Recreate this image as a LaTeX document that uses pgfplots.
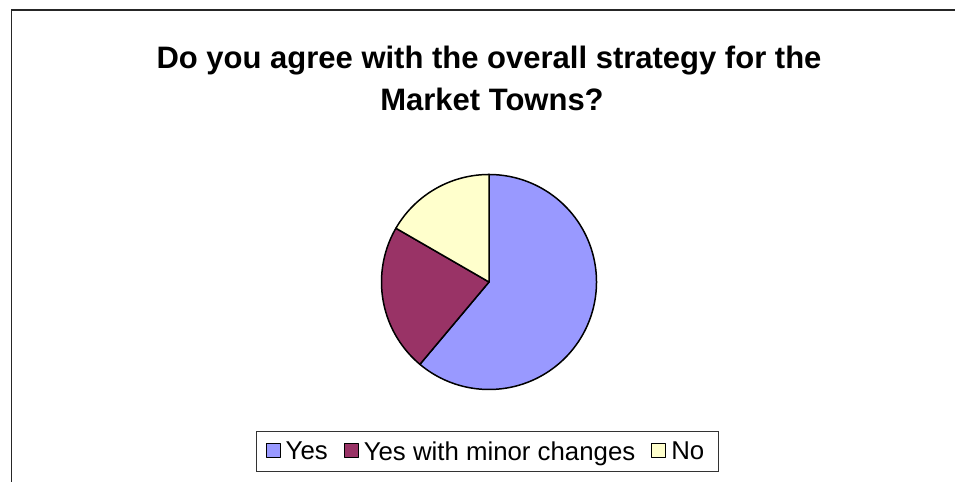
\documentclass[border=0pt]{standalone}
\usepackage{fontspec}
\setmainfont{Liberation Sans}
\usepackage{pgfplots}
\pgfplotsset{compat=1.18}
\definecolor{cyes}{HTML}{9999FF}
\definecolor{cmin}{HTML}{993366}
\definecolor{cno}{HTML}{FFFFCC}
\begin{document}
\begin{tikzpicture}[x=1bp,y=1bp]
\useasboundingbox (0,0) rectangle (955,482);
\draw[line width=1.6bp, black!85] (11.5,0) -- (11.5,472) -- (955,472);
\node[anchor=base, inner sep=0pt, font=\fontsize{31bp}{37bp}\selectfont\bfseries] at (489,413) {Do you agree with the overall strategy for the};
\node[anchor=base, inner sep=0pt, font=\fontsize{31bp}{37bp}\selectfont\bfseries] at (492,371) {Market Towns?};
% survey counts
\def\nYes{11}
\def\nMin{4}
\def\nNo{3}
\pgfmathsetmacro{\tot}{\nYes+\nMin+\nNo}
\pgfmathsetmacro{\aA}{90-360*\nYes/\tot}
\pgfmathsetmacro{\aB}{90+360*\nNo/\tot}
\pgfmathsetmacro{\aC}{\aB+360*\nMin/\tot}
\begin{axis}[at={(489bp,200bp)}, anchor=center,
  width=215bp, height=215bp, scale only axis, hide axis,
  xmin=-1, xmax=1, ymin=-1, ymax=1, clip=false,
  data cs=polar,
  legend columns=-1,
  legend style={at={(axis description cs:0.493,-0.288)}, anchor=center,
    draw=black!80, line width=0.8bp,
    font=\fontsize{25.8bp}{30bp}\selectfont,
    inner xsep=9bp, inner ysep=8bp,
    nodes={inner xsep=5bp},
    /tikz/every even column/.append style={column sep=11bp}},
  legend image code/.code={\draw[#1, draw=black, line width=1bp] (0bp,-6bp) rectangle (14bp,8bp);},
]
\addplot[fill=cyes, draw=black, line width=1.5bp, line join=round, domain=\aA:90, samples=181] ({x},{1}) -- (axis cs:0,0) -- cycle;
\addlegendentry{Yes}
\addplot[fill=cmin, draw=black, line width=1.5bp, line join=round, domain=\aB:\aC, samples=81] ({x},{1}) -- (axis cs:0,0) -- cycle;
\addlegendentry{Yes with minor changes}
\addplot[fill=cno, draw=black, line width=1.5bp, line join=round, domain=90:\aB, samples=61] ({x},{1}) -- (axis cs:0,0) -- cycle;
\addlegendentry{No}
\end{axis}
\end{tikzpicture}
\end{document}
